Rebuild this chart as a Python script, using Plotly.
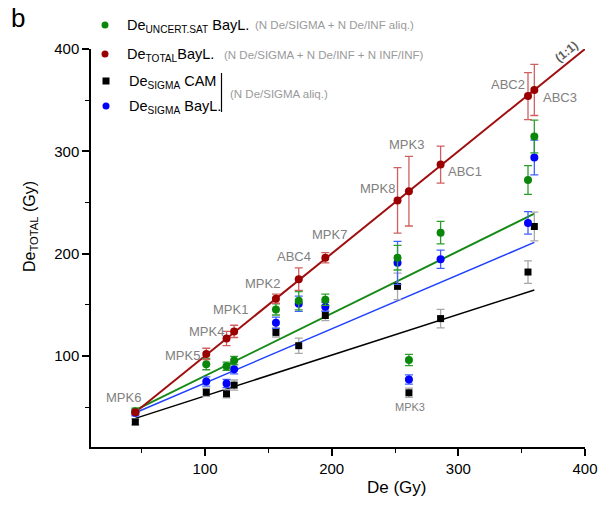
import plotly.graph_objects as go

# ---------------- data ----------------
samples = ["MPK6", "MPK5", "MPK4", "MPK1", "MPK2", "ABC4", "MPK7", "MPK8", "MPK3", "ABC1", "ABC2", "ABC3"]
de_x = [45, 101, 117, 123, 156, 174, 195, 252, 261, 286, 355, 360]

total_bayl = [45, 102, 117, 124, 156, 175, 196, 252, 261, 287, 354, 360]
total_err = [2, 5.5, 7, 6, 4.5, 11, 5, 32, 34, 18, 23, 25]

uncert_bayl = [46, 92, 90, 95.5, 145.5, 154, 155, 196, 96, 220.5, 272, 314.5]
uncert_err = [3, 5.5, 4, 4, 5.5, 9, 5.5, 12, 5.5, 11, 14, 16]

sigma_bayl = [44.5, 75, 73, 87, 132.5, 151, 148, 191, 77, 194.5, 230, 294]
sigma_bayl_err = [3, 4.5, 4, 4.5, 5.5, 7.5, 4.5, 21, 4.5, 9, 11, 17]

sigma_cam = [35.5, 64.5, 63, 71.5, 123, 110, 139.5, 168, 64, 136.5, 182, 226.5]
sigma_cam_err = [3, 4, 4, 5, 4.5, 7.5, 5, 13, 4.5, 9, 11, 14]

# fitted lines (end points)
fit_x = [45, 360]
uncert_fit = [47, 239]
sigma_bayl_fit = [44.5, 211]
sigma_cam_fit = [39, 164.5]
one_x = [45, 400]
one_y = [45, 400]

x_ticks = [100, 200, 300, 400]
y_ticks = [100, 200, 300, 400]

# ---------------- layout helpers ----------------
W, H = 611, 505
L, R, T, B = 91, 26, 49, 58
PW, PH = W - L - R, H - T - B
FONT = "Liberation Sans, Arial, sans-serif"


def px2paper(px, py):
    return (px - L) / PW, (H - B - py) / PH


fig = go.Figure()

# fit lines
fig.add_trace(go.Scatter(x=fit_x, y=sigma_cam_fit, mode="lines",
                         line=dict(color="#000000", width=1.5), hoverinfo="skip"))
fig.add_trace(go.Scatter(x=fit_x, y=sigma_bayl_fit, mode="lines",
                         line=dict(color="#2040FF", width=1.5), hoverinfo="skip"))
fig.add_trace(go.Scatter(x=fit_x, y=uncert_fit, mode="lines",
                         line=dict(color="#168A16", width=2), hoverinfo="skip"))
fig.add_trace(go.Scatter(x=one_x, y=one_y, mode="lines",
                         line=dict(color="#A00F0F", width=2), hoverinfo="skip"))

# points
fig.add_trace(go.Scatter(
    x=de_x, y=sigma_cam, mode="markers", name="SIGMA CAM",
    marker=dict(symbol="square", size=7, color="#000000"),
    error_y=dict(type="data", array=sigma_cam_err, color="#A8A8A8", thickness=1.3, width=4)))
fig.add_trace(go.Scatter(
    x=de_x, y=sigma_bayl, mode="markers", name="SIGMA BayL",
    marker=dict(symbol="circle", size=8, color="#0000FF"),
    error_y=dict(type="data", array=sigma_bayl_err, color="#4060FF", thickness=1.3, width=4)))
fig.add_trace(go.Scatter(
    x=de_x, y=uncert_bayl, mode="markers", name="UNCERT.SAT BayL",
    marker=dict(symbol="circle", size=8, color="#0A870A"),
    error_y=dict(type="data", array=uncert_err, color="#2E9E2E", thickness=1.3, width=4)))
fig.add_trace(go.Scatter(
    x=de_x, y=total_bayl, mode="markers", name="TOTAL BayL",
    marker=dict(symbol="circle", size=8, color="#9B0000"),
    error_y=dict(type="data", array=total_err, color="#D06060", thickness=1.3, width=4)))

annotations = []

# sample labels (data coordinates of text centres)
label_pos = [
    ("MPK6", 35.5, 59), ("MPK5", 82, 100.5), ("MPK4", 101, 124), ("MPK1", 120, 145),
    ("MPK2", 145.5, 171), ("ABC4", 170.5, 197), ("MPK7", 198.5, 219), ("MPK8", 236, 264),
    ("MPK3", 259, 306.5), ("ABC1", 305, 280.5), ("ABC2", 339, 365), ("ABC3", 380, 352.5),
]
for txt, lx, ly in label_pos:
    annotations.append(dict(x=lx, y=ly, xref="x", yref="y", text=txt, showarrow=False,
                            font=dict(family=FONT, size=13, color="#808080"),
                            xanchor="center", yanchor="middle"))
annotations.append(dict(x=261.5, y=50, xref="x", yref="y", text="MPK3", showarrow=False,
                        font=dict(family=FONT, size=11, color="#808080"),
                        xanchor="center", yanchor="middle"))

# (1:1)
ax_, ay_ = px2paper(566, 52)
annotations.append(dict(x=ax_, y=ay_, xref="paper", yref="paper", text="<b>(1:1)</b>",
                        showarrow=False, textangle=-39, xanchor="center", yanchor="middle",
                        font=dict(family=FONT, size=12, color="#606060")))

# panel letter
bx, by = px2paper(18, 18)
annotations.append(dict(x=bx, y=by, xref="paper", yref="paper", text="b", showarrow=False,
                        font=dict(family=FONT, size=26, color="#000000"),
                        xanchor="center", yanchor="middle"))

# axis titles
tx, ty = px2paper(397, 487)
annotations.append(dict(x=tx, y=ty, xref="paper", yref="paper", text="De (Gy)", showarrow=False,
                        font=dict(family=FONT, size=17, color="#000000"),
                        xanchor="center", yanchor="middle"))
tx, ty = px2paper(30, 227)
annotations.append(dict(x=tx, y=ty, xref="paper", yref="paper",
                        text="De<sub>TOTAL</sub> (Gy)", showarrow=False, textangle=-90,
                        font=dict(family=FONT, size=16, color="#000000"),
                        xanchor="center", yanchor="middle"))

# legend
legend_rows = [
    ("circle", "#0A870A", 105, 25, 125, "De<sub>UNCERT.SAT</sub> BayL."),
    ("circle", "#9B0000", 105, 54, 125, "De<sub>TOTAL</sub>BayL."),
    ("square", "#000000", 106, 81, 127, "De<sub>SIGMA</sub> CAM"),
    ("circle", "#0000FF", 106, 106, 127, "De<sub>SIGMA</sub> BayL."),
]
shapes = []
for sym, col, mx, my, tx_px, txt in legend_rows:
    r = 3.5
    x0, y0 = px2paper(mx - r, my + r)
    x1, y1 = px2paper(mx + r, my - r)
    shapes.append(dict(type="circle" if sym == "circle" else "rect", xref="paper", yref="paper",
                       x0=x0, y0=y0, x1=x1, y1=y1, fillcolor=col, line=dict(width=0)))
    ax_, ay_ = px2paper(tx_px, my + 1)
    annotations.append(dict(x=ax_, y=ay_, xref="paper", yref="paper", text=txt, showarrow=False,
                            xanchor="left", yanchor="middle",
                            font=dict(family=FONT, size=14.5, color="#000000")))

notes = [
    (253, 25, "(N De/SIGMA + N De/INF aliq.)"),
    (222, 55, "(N De/SIGMA + N De/INF + N INF/INF)"),
    (228, 94, "(N De/SIGMA aliq.)"),
]
for nx, ny, txt in notes:
    ax_, ay_ = px2paper(nx, ny)
    annotations.append(dict(x=ax_, y=ay_, xref="paper", yref="paper", text=txt, showarrow=False,
                            xanchor="left", yanchor="middle",
                            font=dict(family=FONT, size=11.5, color="#9A9A9A")))

vx0, vy0 = px2paper(221.5, 73)
vx1, vy1 = px2paper(221.5, 112)
shapes.append(dict(type="line", xref="paper", yref="paper", x0=vx0, y0=vy0, x1=vx1, y1=vy1,
                   line=dict(color="#000000", width=1.2)))

axis_common = dict(
    showline=True, linecolor="#000000", linewidth=1.5, mirror=False,
    ticks="outside", ticklen=7, tickwidth=1.5, tickcolor="#000000",
    showgrid=False, zeroline=False,
    tickfont=dict(family=FONT, size=15, color="#000000"),
    minor=dict(dtick=50, tick0=0, ticks="outside", ticklen=4, tickwidth=1.3, tickcolor="#000000",
               showgrid=False),
)

fig.update_layout(
    width=W, height=H,
    margin=dict(l=L, r=R, t=T, b=B, pad=0),
    paper_bgcolor="white", plot_bgcolor="white",
    showlegend=False,
    xaxis=dict(range=[10, 400], tickvals=x_ticks, **axis_common),
    yaxis=dict(range=[11, 400], tickvals=y_ticks, **axis_common),
    annotations=annotations, shapes=shapes,
    font=dict(family=FONT),
)

fig.write_html("out.html")
